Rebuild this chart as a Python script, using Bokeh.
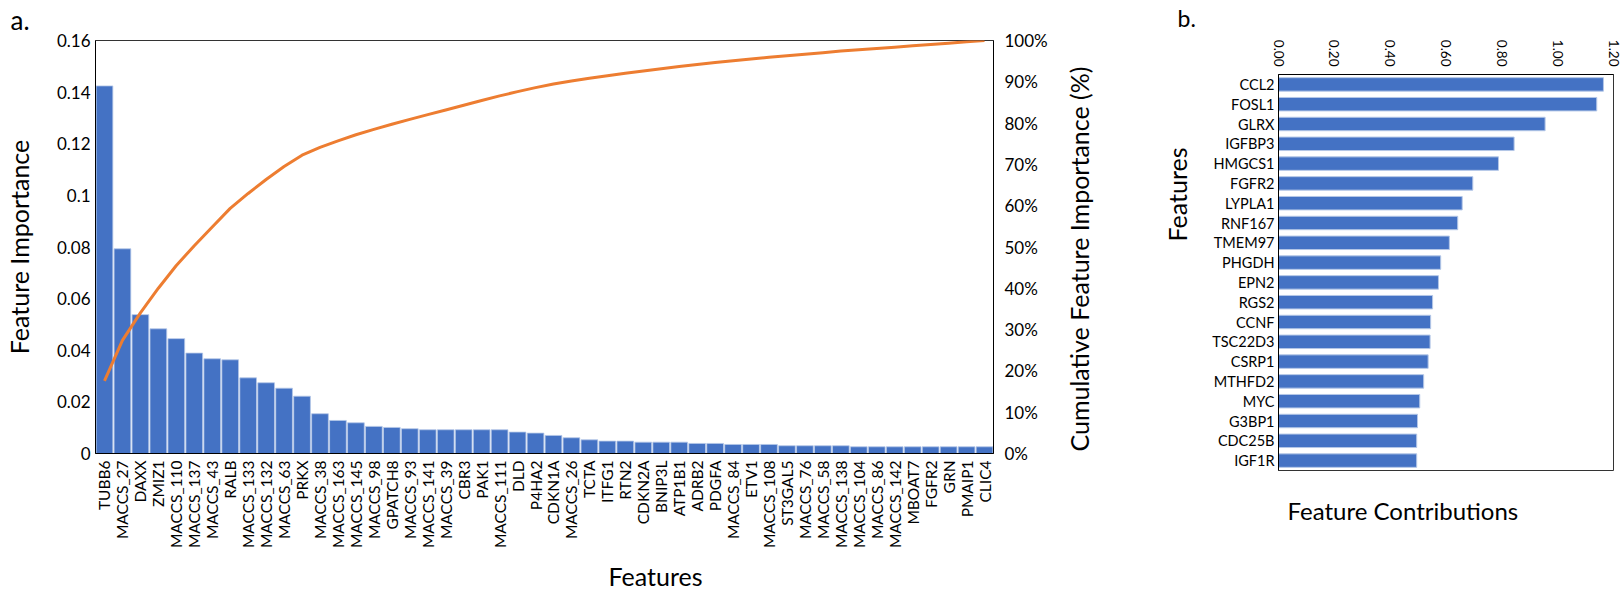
import math
import numpy as np
from bokeh.plotting import figure
from bokeh.models import (FactorRange, Range1d, LinearAxis, CategoricalAxis,
                          FixedTicker, Title)
from bokeh.layouts import row, column
from bokeh.embed import file_html
from bokeh.resources import INLINE

FONT = "Lato"
BLUE = "#4472C4"
BAR_EDGE = "#b4c7e7"
ORANGE = "#ED7D31"

# ---------------- panel a data ----------------
features_a = [
    "TUBB6", "MACCS_27", "DAXX", "ZMIZ1", "MACCS_110", "MACCS_137", "MACCS_43", "RALB",
    "MACCS_133", "MACCS_132", "MACCS_63", "PRKX", "MACCS_38", "MACCS_163", "MACCS_145",
    "MACCS_98", "GPATCH8", "MACCS_93", "MACCS_141", "MACCS_39", "CBR3", "PAK1", "MACCS_111",
    "DLD", "P4HA2", "CDKN1A", "MACCS_26", "TCTA", "ITFG1", "RTN2", "CDKN2A", "BNIP3L",
    "ATP1B1", "ADRB2", "PDGFA", "MACCS_84", "ETV1", "MACCS_108", "ST3GAL5", "MACCS_76",
    "MACCS_58", "MACCS_138", "MACCS_104", "MACCS_86", "MACCS_142", "MBOAT7", "FGFR2",
    "GRN", "PMAIP1", "CLIC4",
]
importance = [
    0.1424, 0.0793, 0.0538, 0.0483, 0.0445, 0.0389, 0.0367, 0.0363,
    0.0293, 0.0274, 0.0253, 0.0222, 0.0154, 0.0128, 0.0119,
    0.0105, 0.0101, 0.0096, 0.0092, 0.0092, 0.0092, 0.0092, 0.0092,
    0.0083, 0.0079, 0.0070, 0.0061, 0.0053, 0.0048, 0.0048, 0.0044, 0.0044,
    0.0044, 0.0039, 0.0039, 0.0035, 0.0035, 0.0035, 0.0030, 0.0030,
    0.0030, 0.0030, 0.0026, 0.0026, 0.0026, 0.0026, 0.0026,
    0.0026, 0.0026, 0.0026,
]
left_ticks = [0, 0.02, 0.04, 0.06, 0.08, 0.1, 0.12, 0.14, 0.16]
left_tick_labels = ["0", "0.02", "0.04", "0.06", "0.08", "0.1", "0.12", "0.14", "0.16"]
pct_ticks = [0, 10, 20, 30, 40, 50, 60, 70, 80, 90, 100]
pct_tick_labels = ["0%", "10%", "20%", "30%", "40%", "50%", "60%", "70%", "80%", "90%", "100%"]

# cumulative share of the importances shown (as drawn in the original)
cum_pct = list(np.cumsum(importance) / np.sum(importance) * 100.0)

# ---------------- panel b data ----------------
genes_b = [
    "CCL2", "FOSL1", "GLRX", "IGFBP3", "HMGCS1", "FGFR2", "LYPLA1", "RNF167", "TMEM97",
    "PHGDH", "EPN2", "RGS2", "CCNF", "TSC22D3", "CSRP1", "MTHFD2", "MYC", "G3BP1",
    "CDC25B", "IGF1R",
]
contrib = [
    1.164, 1.140, 0.955, 0.844, 0.788, 0.696, 0.658, 0.642, 0.612,
    0.581, 0.573, 0.552, 0.545, 0.543, 0.536, 0.520, 0.506, 0.498,
    0.495, 0.495,
]
b_ticks = [0, 0.2, 0.4, 0.6, 0.8, 1.0, 1.2]
b_tick_labels = ["0.00", "0.20", "0.40", "0.60", "0.80", "1.00", "1.20"]


def style_axis(ax, size, standoff):
    ax.major_tick_line_color = None
    ax.minor_tick_line_color = None
    ax.major_tick_out = 0
    ax.major_tick_in = 0
    ax.minor_tick_out = 0
    ax.minor_tick_in = 0
    ax.major_label_text_font = FONT
    ax.major_label_text_font_size = size
    ax.major_label_text_color = "black"
    ax.major_label_standoff = standoff
    ax.axis_line_color = "black"
    ax.axis_line_width = 1
    ax.axis_label_text_font = FONT
    ax.axis_label_text_font_style = "normal"
    ax.axis_label_text_font_size = "25px"
    ax.axis_label_text_color = "black"


def make_title(text, size, offset, standoff, valign="bottom"):
    return Title(text=text, align="left", offset=offset, standoff=standoff,
                 vertical_align=valign,
                 text_font=FONT, text_font_size=size, text_font_style="normal",
                 text_color="black")


def style_title(t, text, size, offset, standoff):
    t.text = text
    t.align = "left"
    t.vertical_align = "top"
    t.offset = offset
    t.standoff = standoff
    t.text_font = FONT
    t.text_font_size = size
    t.text_font_style = "normal"
    t.text_color = "black"


# ---------------- panel a ----------------
FW1, FH1 = 898, 413
p1 = figure(x_range=FactorRange(factors=features_a, range_padding=0),
            y_range=Range1d(0, 0.16),
            frame_width=FW1, frame_height=FH1,
            min_border_left=92, min_border_right=68, min_border_top=40, min_border_bottom=142,
            output_backend="svg", toolbar_location=None, tools="")
p1.extra_y_ranges = {"pct": Range1d(0, 100)}
p1.vbar(x=features_a, top=importance, width=0.93, fill_color=BLUE,
        line_color=BAR_EDGE, line_width=0.8)
p1.line(x=features_a, y=cum_pct, y_range_name="pct", line_color=ORANGE, line_width=3)

p1.xgrid.grid_line_color = None
p1.ygrid.grid_line_color = None
p1.outline_line_color = "#333333"
p1.outline_line_width = 1
style_title(p1.title, "a.", "26px", -85, 6)

ya = p1.yaxis[0]
ya.ticker = FixedTicker(ticks=left_ticks)
ya.major_label_overrides = dict(zip(left_ticks, left_tick_labels))
style_axis(ya, "17px", 5)
ya.axis_label = "Feature Importance"
ya.axis_label_standoff = 20

xa = p1.xaxis[0]
xa.major_label_orientation = math.pi / 2
style_axis(xa, "15.5px", 7)

ra = LinearAxis(y_range_name="pct", ticker=FixedTicker(ticks=pct_ticks))
ra.major_label_overrides = dict(zip(pct_ticks, pct_tick_labels))
style_axis(ra, "17px", 11)
p1.add_layout(ra, "right")

p1.add_layout(make_title("Features", "25px", 513, 14), "below")

# ---------------- panel b ----------------
FW2, FH2 = 335, 396
p2 = figure(y_range=FactorRange(factors=genes_b[::-1]), x_range=Range1d(0, 1.2),
            x_axis_location="above",
            frame_width=FW2, frame_height=FH2,
            min_border_left=216, min_border_right=12, min_border_top=71, min_border_bottom=124,
            output_backend="svg", toolbar_location=None, tools="")
p2.extra_y_ranges = {"spacer": FactorRange(factors=["gap"])}
p2.hbar(y=genes_b, right=contrib, height=0.68, fill_color=BLUE,
        line_color=BAR_EDGE, line_width=1)
p2.xgrid.grid_line_color = None
p2.ygrid.grid_line_color = None
p2.outline_line_color = "#333333"
p2.outline_line_width = 1
style_title(p2.title, "b.", "23px", -101, 6)

tx = p2.xaxis[0]
tx.ticker = FixedTicker(ticks=b_ticks)
tx.major_label_overrides = dict(zip(b_ticks, b_tick_labels))
tx.major_label_orientation = -math.pi / 2
style_axis(tx, "13.5px", 8)

ly = p2.yaxis[0]
style_axis(ly, "14.5px", 4)

# left side of panel b, from the frame outwards: gene labels, "Features",
# an empty gap, then the title of panel a's right-hand (cumulative) axis
p2.add_layout(make_title("Features", "25px", 229, 35), "left")
gap = CategoricalAxis(y_range_name="spacer")
gap.major_label_overrides = {"gap": ""}
gap.major_label_text_font_size = "0px"
gap.major_label_standoff = 0
gap.major_tick_out = 49
gap.major_tick_in = 0
gap.major_tick_line_color = None
gap.minor_tick_line_color = None
gap.minor_tick_out = 0
gap.axis_line_color = None
p2.add_layout(gap, "left")
p2.add_layout(make_title("Cumulative Feature Importance (%)", "25px", 19, 0), "left")
p2.add_layout(make_title("Feature Contributions", "24px", 9, 51, "top"), "below")

layout = row(p1, column(p2))
open("out.html", "w").write(file_html(layout, INLINE))
